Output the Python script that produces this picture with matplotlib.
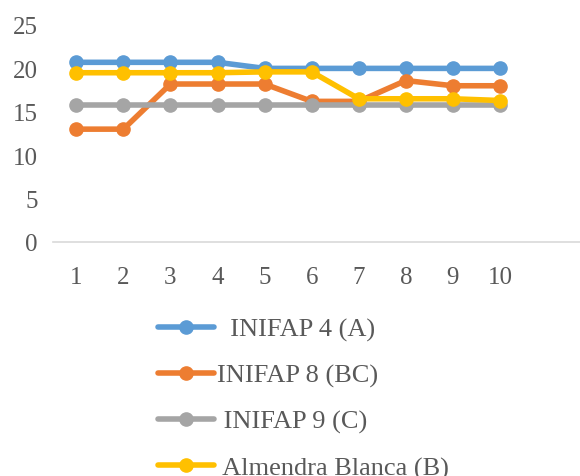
import matplotlib.pyplot as plt

# datos de las cuatro variedades
x = [1, 2, 3, 4, 5, 6, 7, 8, 9, 10]
inifap4 = [20.7, 20.7, 20.7, 20.7, 20.0, 20.0, 20.0, 20.0, 20.0, 20.0]
inifap8 = [13.0, 13.0, 18.2, 18.2, 18.2, 16.2, 16.2, 18.6, 18.0, 18.0]
inifap9 = [15.8, 15.8, 15.8, 15.8, 15.8, 15.8, 15.8, 15.8, 15.8, 15.8]
almendra = [19.5, 19.5, 19.5, 19.5, 19.6, 19.6, 16.5, 16.5, 16.5, 16.3]
nombres = ['  INIFAP 4 (A)', 'INIFAP 8 (BC)', ' INIFAP 9 (C)', ' Almendra Blanca (B)']
colores = ['#5b9bd5', '#ed7d31', '#a5a5a5', '#ffc000']

plt.rcParams['font.family'] = ['Liberation Serif', 'DejaVu Serif']

fig = plt.figure(figsize=(5.8, 4.77), dpi=100)
ax = fig.add_axes([0.091, 0.4906, 0.909, 0.4549])

for serie, nombre, c in zip([inifap4, inifap8, inifap9, almendra], nombres, colores):
    ax.plot(x, serie, color=c, lw=4, marker='o', ms=9.5, label=nombre,
            solid_capstyle='round')

ax.set_ylim(0, 25)
ax.set_xlim(0.5, 11.7)
ax.set_yticks([0, 5, 10, 15, 20, 25])
ax.set_xticks(x)
for s in ['top', 'right', 'left']:
    ax.spines[s].set_visible(False)
ax.spines['bottom'].set_color('#d9d9d9')
ax.spines['bottom'].set_linewidth(1.2)
ax.tick_params(length=0, labelsize=18, labelcolor='#595959')
ax.tick_params(axis='y', pad=11)
ax.tick_params(axis='x', pad=17)

fig.legend(loc='upper left', bbox_to_anchor=(140 / 580, 1 - 300 / 477),
           frameon=False, fontsize=19, labelcolor='#595959',
           handlelength=2.1, handletextpad=0.1, labelspacing=0.84,
           borderpad=0.2)

fig.savefig('out.png', dpi=100)
